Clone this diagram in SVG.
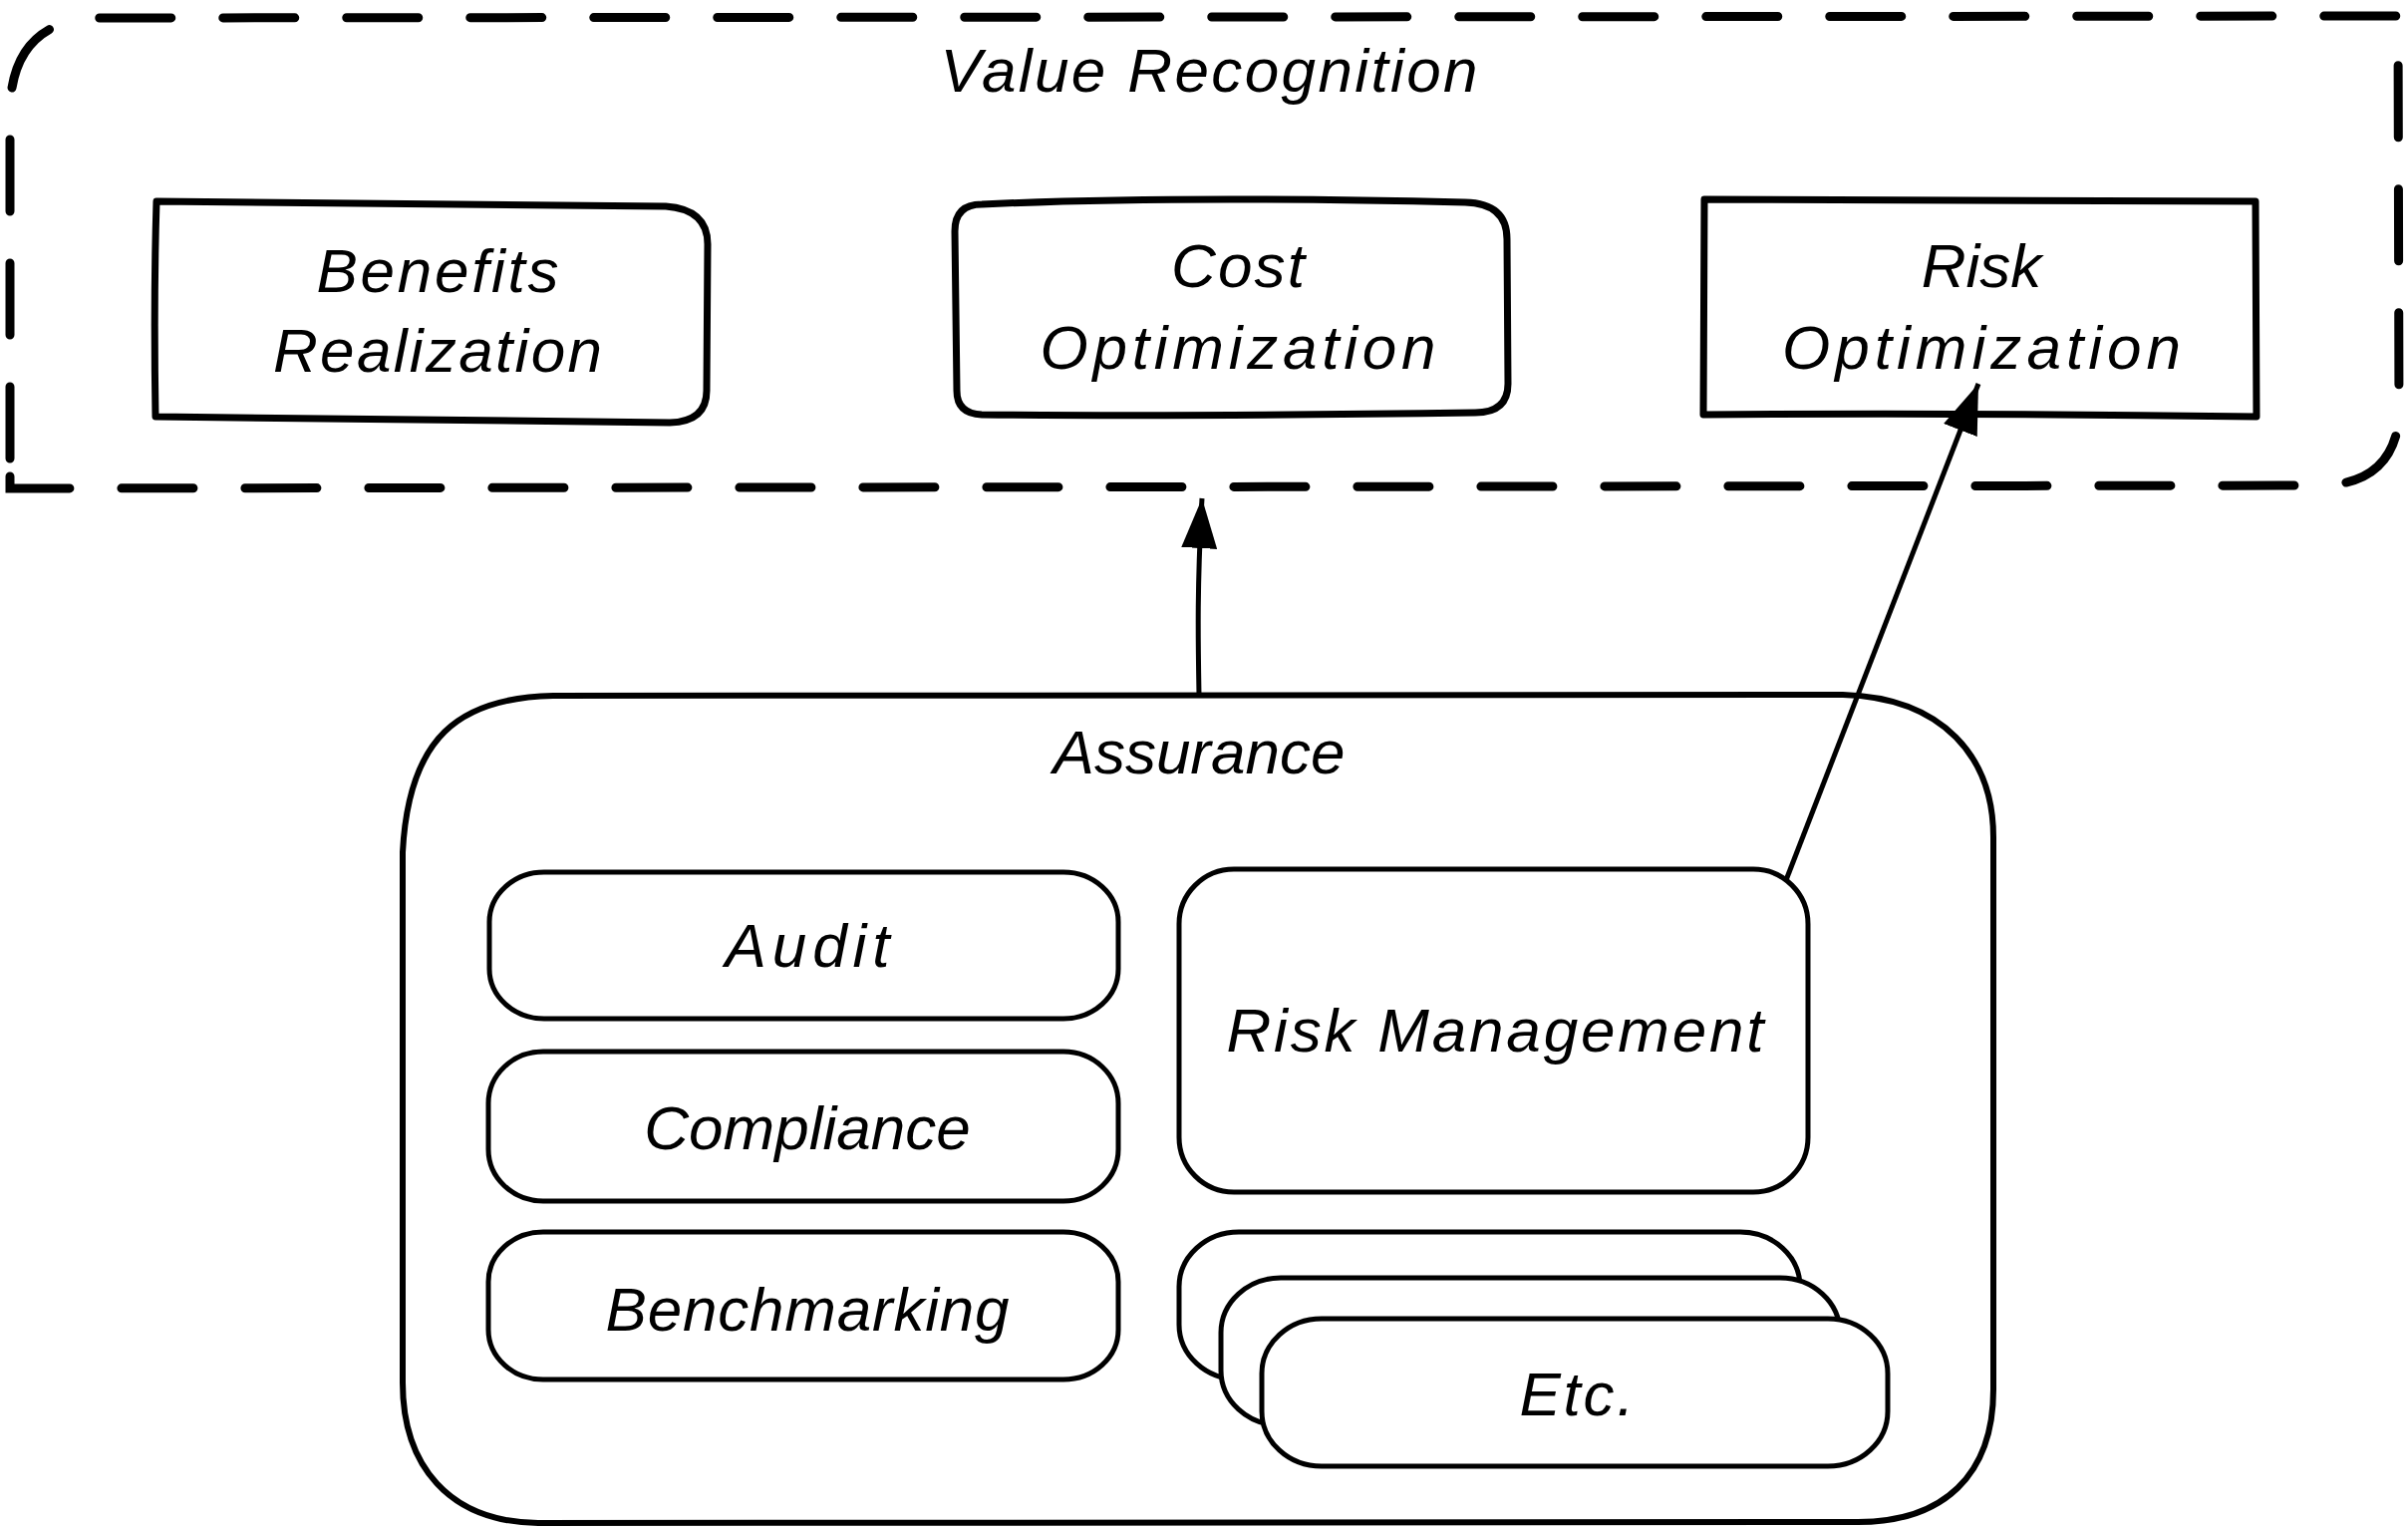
<svg xmlns="http://www.w3.org/2000/svg" width="2416" height="1534" viewBox="0 0 2416 1534">
<style>
.t{font-family:"Liberation Sans",Arial,sans-serif;font-style:italic;font-size:62px;fill:#000;text-anchor:middle}
.top{fill:none;stroke:#000;stroke-width:7;stroke-linejoin:round;stroke-linecap:round}
.big{fill:none;stroke:#000;stroke-width:6;stroke-linejoin:round}
.in{fill:#fff;stroke:#000;stroke-width:5}
.frame{fill:none;stroke:#000;stroke-width:9;stroke-dasharray:72 52;stroke-linecap:round}
.conn{fill:none;stroke:#000;stroke-width:5}
</style>
<defs>
<marker id="ah" markerUnits="userSpaceOnUse" viewBox="0 0 50 36" refX="50" refY="18" markerWidth="50" markerHeight="36" orient="auto"><path d="M0,0 L50,18 L0,36 Z" fill="#000"/></marker>
</defs>
<rect width="2416" height="1534" fill="#fff"/>
<g id="value-recognition">
<path class="frame" d="M10,460 L10,110 Q12,24 92,18 L2406,16 L2407,420 Q2400,485 2330,487 L10,490 Z"/>
<text class="t" x="1213" y="92" textLength="539" lengthAdjust="spacing">Value Recognition</text>
</g>
<g id="benefits-realization">
<path class="top" d="M157,202 L668,207 Q710,210 710,245 L709,392 Q709,423 672,424 L156,418 Q154,300 157,202 Z"/>
<text class="t" x="439" y="293" textLength="243" lengthAdjust="spacing">Benefits</text>
<text class="t" x="439" y="373" textLength="330" lengthAdjust="spacing">Realization</text>
</g>
<g id="cost-optimization">
<path class="top" d="M985,205 Q1180,196 1470,203 Q1512,204 1512,240 L1513,385 Q1513,414 1480,414 Q1200,418 985,416 Q960,415 960,392 L958,232 Q958,205 985,205 Z"/>
<text class="t" x="1242" y="288" textLength="134" lengthAdjust="spacing">Cost</text>
<text class="t" x="1242" y="370" textLength="397" lengthAdjust="spacing">Optimization</text>
</g>
<g id="risk-optimization">
<path class="top" d="M1710,200 L2263,202 L2264,418 Q1980,414 1709,416 Z"/>
<text class="t" x="1988" y="288">Risk</text>
<text class="t" x="1988" y="370" textLength="400" lengthAdjust="spacing">Optimization</text>
</g>
<g id="assurance">
<path class="big" d="M404,855 C410,740 460,700 555,698 L1849,697 C1950,700 2000,760 2000,840 L2000,1394 C2000,1480 1950,1527 1864,1527 L540,1528 C450,1527 404,1470 404,1387 Z"/>
<text class="t" x="1203" y="776">Assurance</text>
</g>
<g id="audit">
<rect class="in" x="491" y="875" width="631" height="147" rx="55" ry="50"/>
<text class="t" x="810" y="970" textLength="165" lengthAdjust="spacing">Audit</text>
</g>
<g id="compliance">
<rect class="in" x="490" y="1055" width="632" height="150" rx="55" ry="52"/>
<text class="t" x="810" y="1153">Compliance</text>
</g>
<g id="benchmarking">
<rect class="in" x="490" y="1236" width="632" height="148" rx="55" ry="50"/>
<text class="t" x="810" y="1335" textLength="405" lengthAdjust="spacing">Benchmarking</text>
</g>
<g id="risk-management">
<rect class="in" x="1183" y="872" width="631" height="324" rx="55" ry="55"/>
<text class="t" x="1500" y="1055" textLength="539" lengthAdjust="spacing">Risk Management</text>
</g>
<g id="etc">
<rect class="in" x="1183" y="1236" width="623" height="148" rx="60" ry="55"/>
<rect class="in" x="1225" y="1282" width="621" height="148" rx="60" ry="55"/>
<rect class="in" x="1266" y="1323" width="628" height="148" rx="60" ry="55"/>
<text class="t" x="1582" y="1420" textLength="115" lengthAdjust="spacing">Etc.</text>
</g>
<g id="connectors">
<path class="conn" d="M1203,697 C1202,640 1201,590 1206,500" marker-end="url(#ah)"/>
<path class="conn" d="M1792,883 L1985,385" marker-end="url(#ah)"/>
</g>
</svg>
